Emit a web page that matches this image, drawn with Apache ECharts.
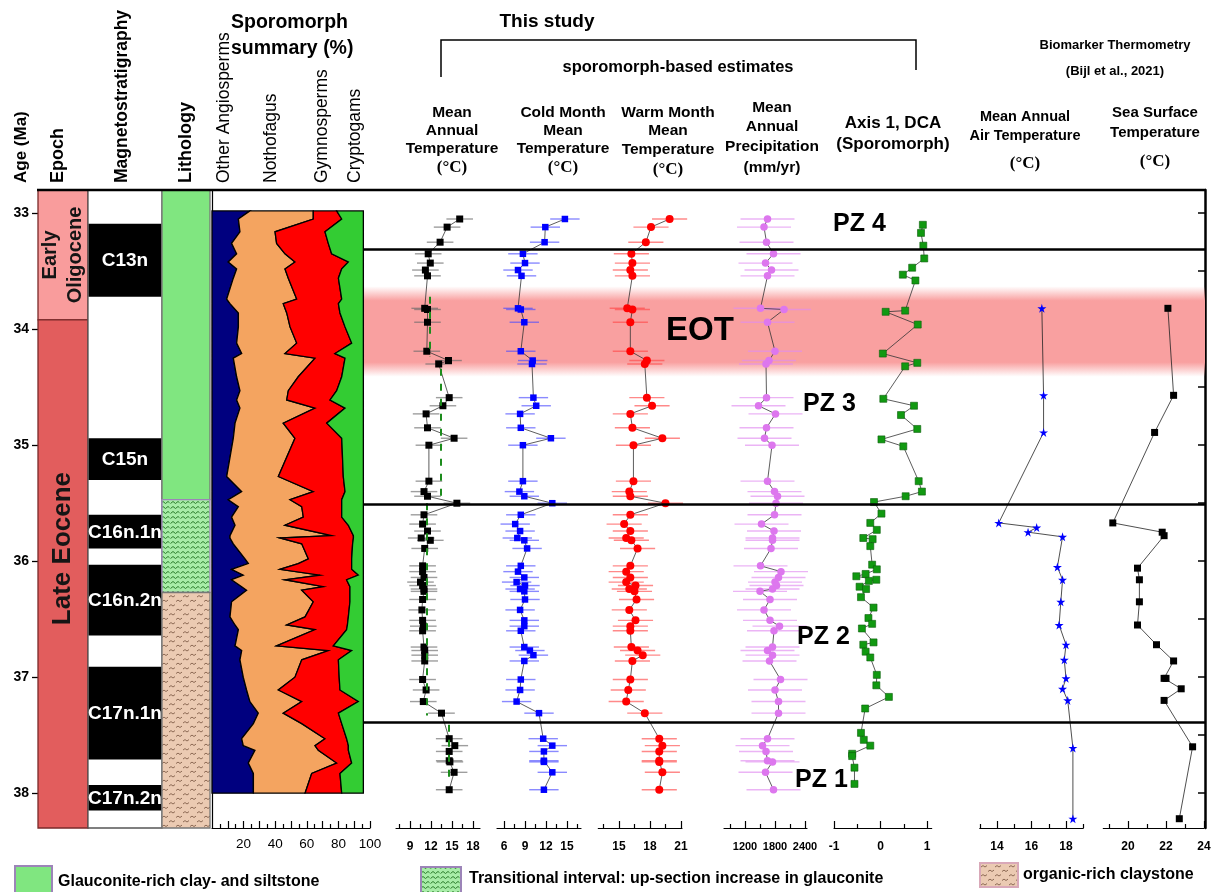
<!DOCTYPE html>
<html>
<head>
<meta charset="utf-8">
<title>EOT sporomorph climate record</title>
<script src="https://cdn.jsdelivr.net/npm/echarts@6/dist/echarts.min.js"></script>
<style>
  html, body { margin: 0; padding: 0; background: #fff; }
  #chart { width: 1222px; height: 892px; }
</style>
</head>
<body>
<div id="chart"></div>
<script>
// ---- age axis ----
const AGE_MIN = 32.8, AGE_MAX = 38.3;
const ageTicks = [33, 34, 35, 36, 37, 38];
const frameTicks = [33, 33.5, 34, 34.5, 35, 35.5, 36, 36.5, 37, 37.5, 38];

// ---- stratigraphic columns ----
const epochNames = ['Early\nOligocene', 'Late Eocene'];
const epochTop = [32.8, 33.92];
const epochBase = [33.92, 38.3];

const chronNames = ['C13n', 'C15n', 'C16n.1n', 'C16n.2n', 'C17n.1n', 'C17n.2n'];
const chronTop = [33.09, 34.94, 35.60, 36.03, 36.91, 37.93];
const chronBase = [33.72, 35.30, 35.89, 36.64, 37.71, 38.15];

const lithNames = ['Glauconite-rich clay- and siltstone', 'Transitional interval: up-section increase in glauconite', 'organic-rich claystone'];
const lithTop = [32.8, 35.47, 36.27];
const lithBase = [35.47, 36.27, 38.3];

// ---- sporomorph summary (%) ----
const sporGroups = ['Other Angiosperms', 'Nothofagus', 'Gymnosperms', 'Cryptogams'];
const sporAge = [32.98, 33.05, 33.16, 33.26, 33.35, 33.42, 33.48, 33.56, 33.74, 33.78, 33.86, 33.98, 34.12, 34.21, 34.25, 34.41, 34.53, 34.61, 34.68, 34.81, 34.94, 35.27, 35.40, 35.47, 35.53, 35.62, 35.69, 35.78, 35.80, 35.85, 35.98, 36.02, 36.07, 36.12, 36.16, 36.22, 36.25, 36.35, 36.48, 36.55, 36.59, 36.73, 36.77, 36.85, 37.00, 37.11, 37.21, 37.31, 37.40, 37.53, 37.59, 37.63, 37.74, 37.83, 38.00];
const otherAngio = [24.0, 16.7, 17.7, 12.4, 15.6, 10.3, 15.6, 13.5, 9.3, 11.4, 16.7, 16.7, 15.6, 18.8, 13.5, 15.6, 17.7, 15.6, 17.7, 14.6, 13.5, 9.3, 18.8, 10.3, 16.7, 12.4, 14.6, 11.4, 11.4, 13.5, 20.9, 23.0, 12.4, 19.8, 12.4, 18.8, 21.9, 12.4, 11.4, 14.6, 16.7, 14.6, 18.8, 17.7, 19.8, 21.9, 24.0, 29.3, 26.2, 18.8, 19.8, 27.2, 23.0, 26.2, 26.2];
const nothofagus = [40.1, 47.4, 22.2, 28.5, 30.6, 42.2, 30.6, 34.8, 44.3, 33.7, 30.6, 32.7, 38.0, 27.4, 51.7, 39.0, 30.6, 31.7, 47.5, 30.5, 39.0, 32.7, 45.3, 39.1, 40.1, 45.4, 31.6, 64.3, 31.6, 43.3, 40.1, 31.6, 30.6, 48.6, 33.8, 51.7, 34.9, 51.7, 47.5, 32.7, 48.5, 26.3, 54.8, 39.1, 32.7, 20.1, 32.8, 15.8, 30.6, 52.7, 45.4, 40.1, 55.9, 36.9, 32.7];
const gymnosperms = [14.8, 18.0, 31.6, 32.7, 29.5, 33.8, 35.9, 31.7, 28.5, 34.9, 33.7, 34.8, 34.8, 31.6, 19.0, 27.5, 30.6, 27.4, 19.0, 27.5, 29.6, 41.1, 20.1, 32.7, 25.3, 24.3, 40.1, 13.8, 46.5, 32.2, 27.4, 33.8, 45.4, 24.2, 39.0, 16.8, 30.5, 23.2, 27.4, 38.4, 20.0, 35.9, 14.8, 23.2, 28.0, 39.0, 35.8, 34.9, 25.3, 13.7, 21.1, 19.0, 9.5, 17.9, 23.2];
const cryptogams = [16.9, 13.7, 24.3, 22.2, 20.1, 9.5, 13.7, 15.8, 13.7, 15.8, 14.8, 11.6, 7.4, 18.0, 11.6, 13.7, 16.9, 21.1, 11.6, 23.2, 13.7, 12.7, 11.6, 13.7, 13.7, 13.7, 9.5, 6.3, 6.3, 6.8, 7.4, 7.4, 7.4, 3.2, 10.6, 8.5, 8.5, 8.5, 9.5, 10.1, 10.6, 19.0, 7.4, 15.8, 15.3, 14.8, 3.2, 15.8, 13.7, 10.6, 9.5, 9.5, 7.4, 14.8, 13.7];

// ---- sporomorph-based climate estimates (same samples) ----
const sampleAge = [33.05, 33.12, 33.25, 33.35, 33.43, 33.49, 33.54, 33.82, 33.83, 33.94, 34.19, 34.27, 34.30, 34.59, 34.66, 34.73, 34.85, 34.94, 35.00, 35.31, 35.40, 35.44, 35.50, 35.60, 35.68, 35.74, 35.80, 35.82, 35.89, 36.04, 36.09, 36.14, 36.18, 36.21, 36.24, 36.26, 36.33, 36.42, 36.51, 36.56, 36.60, 36.74, 36.77, 36.81, 36.86, 37.02, 37.11, 37.21, 37.31, 37.53, 37.59, 37.64, 37.72, 37.73, 37.82, 37.97];
const matValues = [16.1, 14.3, 13.3, 11.6, 11.9, 11.2, 11.5, 11.1, 11.5, 11.5, 11.4, 14.5, 13.1, 14.6, 13.7, 11.3, 11.5, 15.3, 11.7, 11.7, 11.0, 11.5, 15.7, 11.0, 10.8, 11.5, 10.6, 11.9, 11.1, 10.8, 10.8, 11.0, 10.5, 10.8, 11.0, 11.0, 10.8, 10.7, 10.8, 10.9, 10.8, 11.0, 11.1, 11.1, 11.1, 10.8, 11.3, 10.9, 13.5, 14.6, 15.4, 14.6, 14.6, 14.7, 15.3, 14.6];
const cmmtValues = [14.7, 11.9, 11.8, 8.7, 9.0, 8.0, 8.5, 8.0, 8.4, 8.9, 8.4, 10.1, 10.0, 10.2, 10.6, 8.3, 8.4, 12.7, 8.7, 8.7, 8.2, 8.9, 12.9, 8.4, 7.6, 8.3, 7.9, 8.9, 9.3, 8.4, 8.0, 8.9, 7.8, 9.0, 8.3, 8.9, 9.0, 8.3, 8.9, 8.9, 8.4, 8.9, 9.7, 10.2, 8.9, 8.4, 8.3, 7.8, 11.0, 11.6, 12.9, 11.7, 11.7, 11.7, 12.9, 11.7];
const wmmtValues = [19.9, 18.1, 17.6, 16.2, 16.3, 16.1, 16.3, 15.8, 16.3, 16.1, 16.1, 17.7, 17.5, 17.7, 18.2, 16.1, 16.3, 19.2, 16.4, 16.4, 16.0, 16.1, 19.5, 16.1, 15.5, 16.1, 15.7, 16.2, 16.8, 16.1, 15.7, 16.1, 15.7, 16.6, 16.0, 16.5, 16.7, 16.0, 16.6, 16.1, 16.1, 16.2, 16.8, 17.3, 16.3, 16.1, 15.9, 15.7, 17.5, 18.9, 19.2, 18.9, 18.9, 18.9, 19.2, 18.9];
const mapValues = [1650, 1580, 1630, 1770, 1610, 1730, 1650, 1510, 1980, 1650, 1800, 1680, 1620, 1630, 1470, 1810, 1630, 1590, 1740, 1650, 1790, 1850, 1820, 1790, 1530, 1780, 1750, 1750, 1720, 1510, 1920, 1870, 1800, 1830, 1750, 1500, 1700, 1580, 1700, 1890, 1780, 1750, 1650, 1750, 1690, 1910, 1800, 1870, 1870, 1650, 1550, 1620, 1650, 1750, 1610, 1770];
const matErr = 1.9, cmmtErr = 2.1, wmmtErr = 1.7, mapErr = 540;

// MAT zone averages (green dashed)
const matMeanValue = [11.8, 13.4, 11.4, 14.6];
const matMeanTop = [33.72, 34.34, 35.50, 37.41];
const matMeanBase = [34.24, 35.47, 37.33, 37.91];

// ---- DCA axis 1 ----
const dcaAge = [33.10, 33.17, 33.28, 33.39, 33.47, 33.53, 33.58, 33.84, 33.85, 33.96, 34.21, 34.29, 34.32, 34.60, 34.66, 34.74, 34.86, 34.95, 35.01, 35.31, 35.40, 35.44, 35.49, 35.59, 35.67, 35.73, 35.80, 35.81, 35.87, 36.03, 36.07, 36.11, 36.13, 36.16, 36.17, 36.22, 36.24, 36.31, 36.40, 36.49, 36.54, 36.58, 36.70, 36.72, 36.78, 36.83, 36.98, 37.07, 37.17, 37.27, 37.48, 37.54, 37.59, 37.66, 37.68, 37.78, 37.92];
const dcaScore = [0.91, 0.87, 0.92, 0.94, 0.68, 0.48, 0.75, 0.53, 0.11, 0.80, 0.05, 0.79, 0.53, 0.06, 0.72, 0.44, 0.79, 0.02, 0.49, 0.82, 0.89, 0.54, -0.14, 0.02, -0.22, -0.08, -0.37, -0.17, -0.22, -0.18, -0.08, -0.32, -0.52, -0.09, -0.25, -0.45, -0.31, -0.42, -0.15, -0.26, -0.18, -0.40, -0.15, -0.37, -0.32, -0.22, -0.08, -0.09, 0.18, -0.33, -0.42, -0.36, -0.22, -0.61, -0.61, -0.56, -0.56];

// ---- biomarker thermometry (Bijl et al., 2021) ----
const maatAge = [33.82, 34.57, 34.89, 35.67, 35.71, 35.75, 35.79, 36.05, 36.16, 36.35, 36.55, 36.72, 36.85, 37.01, 37.10, 37.20, 37.61, 38.22];
const maatValues = [16.6, 16.7, 16.7, 14.1, 16.3, 15.8, 17.8, 17.5, 17.8, 17.7, 17.6, 18.0, 17.9, 18.0, 17.8, 18.1, 18.4, 18.4];
const sstAge = [33.82, 34.57, 34.89, 35.67, 35.75, 35.78, 36.06, 36.16, 36.35, 36.55, 36.72, 36.86, 37.01, 37.01, 37.10, 37.20, 37.60, 38.22];
const sstValues = [22.1, 22.4, 21.4, 19.2, 21.8, 21.9, 20.5, 20.6, 20.6, 20.5, 21.5, 22.4, 21.9, 22.0, 22.8, 21.9, 23.4, 22.7];

// ---- zones ----
const zoneNames = ['PZ 4', 'PZ 3', 'PZ 2', 'PZ 1'];
const zoneBoundaries = [33.31, 35.51, 37.39];
const eotTop = 33.63, eotBase = 34.41;

// ---- panel axes ticks ----
const sporMajor = [10, 20, 30, 40, 50, 60, 70, 80, 90, 100], sporMinor = [5, 15, 25, 35, 45, 55, 65, 75, 85, 95], sporLabels = [20, 40, 60, 80, 100];
const matMajor = [9, 12, 15, 18], matMinor = [7.5, 10.5, 13.5, 16.5];
const cmmtMajor = [6, 9, 12, 15], cmmtMinor = [7.5, 10.5, 13.5, 16.5];
const wmmtMajor = [15, 18, 21], wmmtMinor = [13.5, 16.5, 19.5];
const mapMajor = [1200, 1800, 2400], mapMinor = [900, 1500, 2100];
const dcaMajor = [-1, 0, 1], dcaMinor = [-0.5, 0.5];
const maatMajor = [14, 16, 18], maatMinor = [13, 15, 17, 19];
const sstMajor = [20, 22, 24], sstMinor = [19, 21, 23];

const FONT = '"Liberation Sans", Arial, Helvetica, sans-serif';
const SERIF = '"Liberation Serif", "Times New Roman", serif';

function makeTile(w, h, bg, ink, draw) {
  const c = document.createElement('canvas');
  c.width = w; c.height = h;
  const g = c.getContext('2d');
  g.fillStyle = bg; g.fillRect(0, 0, w, h);
  g.strokeStyle = ink; g.lineWidth = 1;
  g.beginPath(); draw(g); g.stroke();
  return { image: c, repeat: 'repeat' };
}
const transTile = makeTile(10, 5, '#a8eda8', '#2b7d2b', function (g) {
  g.moveTo(0.5, 3.5); g.lineTo(3, 1.5); g.lineTo(5.5, 3.5); g.lineTo(8, 1.5); g.lineTo(9.5, 2.7);
});
const organicTile = makeTile(14, 9, '#ebcab2', '#8d6a55', function (g) {
  g.moveTo(1, 3); g.lineTo(3, 1.6); g.lineTo(5, 3); g.lineTo(7, 1.6);
  g.moveTo(8, 7.5); g.lineTo(10, 6.1); g.lineTo(12, 7.5); g.lineTo(14, 6.1);
});
const lithFill = ['#80e680', transTile, organicTile];
const epochColors = ['#f99c9c', '#e25d5d'];
const sporColors = ['#00007f', '#f4a460', '#ff0000', '#33cc33'];
const EOT_PINK = 'rgba(249,160,160,1)', EOT_CLEAR = 'rgba(249,160,160,0)';

const chart = echarts.init(document.getElementById('chart'));

const gridBoxes = [
  [38, 50], [88, 74], [162, 48], [212, 158],
  [396, 84], [497, 84], [598.3, 83.7], [724, 83],
  [834, 97.7], [979.75, 103.5], [1103.3, 100.7], [363, 842]
];
const grid = gridBoxes.map(function (b) { return { left: b[0], width: b[1], top: 190, height: 638 }; });

function hiddenX(gi) { return { gridIndex: gi, type: 'value', min: 0, max: 1, show: false }; }
function panelX(gi, min, max, major, minor, labels, font) {
  return [
    { gridIndex: gi, type: 'value', min: min, max: max, position: 'bottom',
      axisLine: { show: true, onZero: false, lineStyle: { color: '#000', width: 1.2 } },
      axisTick: { show: true, inside: true, length: 7, customValues: major, lineStyle: { color: '#000', width: 1.2 } },
      axisLabel: { show: true, customValues: labels, margin: font.margin, color: '#000', fontSize: font.size, fontWeight: font.weight, fontFamily: FONT,
        formatter: function (v) { return String(v); } },
      splitLine: { show: false } },
    { gridIndex: gi, type: 'value', min: min, max: max, position: 'bottom',
      axisLine: { show: false, onZero: false },
      axisTick: { show: true, inside: true, length: 4, customValues: minor, lineStyle: { color: '#000', width: 1.2 } },
      axisLabel: { show: false }, splitLine: { show: false } }
  ];
}
const boldFont = { size: 12, weight: 'bold', margin: 13 };
const xAxis = [hiddenX(0), hiddenX(1), hiddenX(2)]
  .concat(panelX(3, 0, 100, sporMajor, sporMinor, sporLabels, { size: 13.5, weight: 'normal', margin: 9 }))
  .concat(panelX(4, 7, 19, matMajor, matMinor, matMajor, boldFont))
  .concat(panelX(5, 5, 17, cmmtMajor, cmmtMinor, cmmtMajor, boldFont))
  .concat(panelX(6, 13, 21.1, wmmtMajor, wmmtMinor, wmmtMajor, boldFont))
  .concat(panelX(7, 780, 2440, mapMajor, mapMinor, mapMajor, { size: 11, weight: 'bold', margin: 13 }))
  .concat(panelX(8, -1, 1.1, dcaMajor, dcaMinor, dcaMajor, boldFont))
  .concat(panelX(9, 13, 19, maatMajor, maatMinor, maatMajor, boldFont))
  .concat(panelX(10, 18.7, 24, sstMajor, sstMinor, sstMajor, boldFont))
  .concat([hiddenX(11)]);

function ageY(gi, extra) {
  return Object.assign({ gridIndex: gi, type: 'value', inverse: true, min: AGE_MIN, max: AGE_MAX, show: false }, extra || {});
}
const yAxis = [];
for (let g = 0; g < 12; g++) yAxis.push(ageY(g));
yAxis[0] = ageY(0, {
  show: true, position: 'left',
  axisLine: { show: false },
  axisTick: { show: true, length: 6, customValues: ageTicks, lineStyle: { color: '#000', width: 1.3 } },
  axisLabel: { show: true, customValues: ageTicks, margin: 9, color: '#000', fontSize: 14, fontWeight: 'bold', fontFamily: FONT },
  splitLine: { show: false }
});
yAxis[3] = ageY(3, {
  show: true, position: 'left',
  axisLine: { show: true, onZero: false, lineStyle: { color: '#000', width: 1.2 } },
  axisTick: { show: false }, axisLabel: { show: false }, splitLine: { show: false }
});
yAxis[11] = ageY(11, {
  show: true, position: 'right',
  axisLine: { show: true, onZero: false, lineStyle: { color: '#000', width: 2.5 } },
  axisTick: { show: true, inside: true, length: 7, customValues: frameTicks, lineStyle: { color: '#000', width: 1.5 } },
  axisLabel: { show: false }, splitLine: { show: false }
});

// interval columns (epoch, chrons, lithology)
function intervalSeries(gi, tops, bases, draw) {
  return {
    type: 'custom', coordinateSystem: 'cartesian2d', xAxisIndex: gi, yAxisIndex: gi, silent: true,
    data: tops.map(function (t, i) { return [0, t, 1, bases[i]]; }),
    encode: { x: [0, 2], y: [1, 3] },
    renderItem: function (params, api) {
      const i = params.dataIndex;
      const a = api.coord([0, tops[i]]), b = api.coord([1, bases[i]]);
      return draw(i, a[0], a[1], b[0] - a[0], b[1] - a[1]);
    }
  };
}

const epochSeries = intervalSeries(0, epochTop, epochBase, function (i, x, y, w, h) {
  // the Late Eocene label sits a little above the middle of its box
  const ly = i === 0 ? y + h / 2 : y + h * 0.45;
  return { type: 'group', children: [
    { type: 'rect', shape: { x: x, y: y, width: w, height: h }, style: { fill: epochColors[i], stroke: '#7a2a2a', lineWidth: 1.3 } },
    { type: 'text', x: x + w / 2, y: ly, rotation: Math.PI / 2,
      style: { text: epochNames[i], fill: '#151515', font: (i === 0 ? 'bold 20px ' : 'bold 26px ') + FONT, align: 'center', verticalAlign: 'middle', lineHeight: 25 } }
  ] };
});
const magBackSeries = intervalSeries(1, [AGE_MIN], [AGE_MAX], function (i, x, y, w, h) {
  return { type: 'rect', shape: { x: x, y: y, width: w, height: h }, style: { fill: '#fff', stroke: '#555', lineWidth: 1.3 } };
});
const chronSeries = intervalSeries(1, chronTop, chronBase, function (i, x, y, w, h) {
  return { type: 'group', children: [
    { type: 'rect', shape: { x: x + 0.6, y: y, width: w - 1.2, height: h }, style: { fill: '#000' } },
    { type: 'text', x: x + w / 2, y: y + h / 2 + 1,
      style: { text: chronNames[i], fill: '#fff', font: 'bold 19px ' + FONT, align: 'center', verticalAlign: 'middle' } }
  ] };
});
const lithSeries = intervalSeries(2, lithTop, lithBase, function (i, x, y, w, h) {
  return { type: 'rect', shape: { x: x, y: y, width: w, height: h }, style: { fill: lithFill[i], stroke: i === 1 ? '#9c84b8' : '#777', lineWidth: 1.3 } };
});

// stacked sporomorph areas
const sporLayers = [otherAngio, nothofagus, gymnosperms, cryptogams];
const sporEdges = [];
let run = sporAge.map(function () { return 0; });
sporLayers.forEach(function (layer) {
  const left = run;
  run = run.map(function (v, i) { return v + layer[i]; });
  sporEdges.push([left, run]);
});
const sporSeries = {
  type: 'custom', coordinateSystem: 'cartesian2d', xAxisIndex: 3, yAxisIndex: 3, silent: true,
  data: sporGroups.map(function () { return [50, 35]; }),
  encode: { x: 0, y: 1 },
  renderItem: function (params, api) {
    const k = params.dataIndex;
    const pts = [];
    for (let i = 0; i < sporAge.length; i++) pts.push(api.coord([sporEdges[k][1][i], sporAge[i]]));
    for (let i = sporAge.length - 1; i >= 0; i--) pts.push(api.coord([sporEdges[k][0][i], sporAge[i]]));
    return { type: 'polygon', shape: { points: pts }, style: { fill: sporColors[k], stroke: '#000', lineWidth: 1.3, lineJoin: 'miter' } };
  }
};

// error bars + record
function errSeries(xi, yi, vals, ages, err, color) {
  return {
    type: 'custom', coordinateSystem: 'cartesian2d', xAxisIndex: xi, yAxisIndex: yi, silent: true, z: 2,
    data: vals.map(function (v, i) { return [v - err, v + err, ages[i]]; }),
    encode: { x: [0, 1], y: 2 },
    renderItem: function (params, api) {
      const a = api.coord([api.value(0), api.value(2)]);
      const b = api.coord([api.value(1), api.value(2)]);
      return { type: 'line', shape: { x1: a[0], y1: a[1], x2: b[0], y2: b[1] }, style: { stroke: color, lineWidth: 1.4, opacity: 0.65 } };
    }
  };
}
function recordSeries(name, xi, yi, vals, ages, symbol, size, color, extra) {
  return Object.assign({
    name: name, type: 'line', xAxisIndex: xi, yAxisIndex: yi, z: 3, silent: true,
    data: vals.map(function (v, i) { return [v, ages[i]]; }),
    symbol: symbol, symbolSize: size, showSymbol: true,
    itemStyle: { color: color },
    lineStyle: { color: '#333', width: 0.8 }
  }, extra || {});
}
const STAR = 'path://M50,0 L61,35 L98,35 L68,57 L79,91 L50,70 L21,91 L32,57 L2,35 L39,35 Z';

const series = [
  epochSeries, magBackSeries, chronSeries, lithSeries, sporSeries,
  errSeries(5, 4, matValues, sampleAge, matErr, '#6a6a6a'),
  recordSeries('MAT', 5, 4, matValues, sampleAge, 'rect', 7, '#000', {
    markLine: {
      silent: true, symbol: 'none', label: { show: false },
      lineStyle: { color: '#1c8c1c', width: 2, type: [7, 8] },
      data: matMeanValue.map(function (v, i) { return [{ coord: [v, matMeanTop[i]] }, { coord: [v, matMeanBase[i]] }]; })
    }
  }),
  errSeries(7, 5, cmmtValues, sampleAge, cmmtErr, '#4b4bff'),
  recordSeries('CMMT', 7, 5, cmmtValues, sampleAge, 'rect', 6.5, '#0000ff'),
  errSeries(9, 6, wmmtValues, sampleAge, wmmtErr, '#ff4a4a'),
  recordSeries('WMMT', 9, 6, wmmtValues, sampleAge, 'circle', 8, '#ff0000'),
  errSeries(11, 7, mapValues, sampleAge, mapErr, '#e08cf0'),
  recordSeries('MAP', 11, 7, mapValues, sampleAge, 'circle', 7.5, '#dd77ee'),
  recordSeries('DCA', 13, 8, dcaScore, dcaAge, 'rect', 7, '#119911', { itemStyle: { color: '#119911', borderColor: '#0b5e0b', borderWidth: 0.6 } }),
  recordSeries('MAAT', 15, 9, maatValues, maatAge, STAR, 9, '#0000ff', { lineStyle: { color: '#222', width: 0.8 } }),
  recordSeries('SST', 17, 10, sstValues, sstAge, 'rect', 7, '#000', { lineStyle: { color: '#222', width: 0.8 } }),
  {
    type: 'line', xAxisIndex: 19, yAxisIndex: 11, data: [], silent: true, z: 1,
    markArea: {
      silent: true,
      itemStyle: {
        color: {
          type: 'linear', x: 0, y: 0, x2: 0, y2: 1,
          colorStops: [
            { offset: 0, color: EOT_CLEAR }, { offset: 0.16, color: EOT_PINK },
            { offset: 0.84, color: EOT_PINK }, { offset: 1, color: EOT_CLEAR }
          ]
        }
      },
      data: [[{ yAxis: eotTop }, { yAxis: eotBase }]]
    },
    markLine: {
      silent: true, symbol: 'none', label: { show: false },
      lineStyle: { color: '#000', width: 2.5, type: 'solid' },
      data: zoneBoundaries.map(function (a) { return { yAxis: a }; })
    }
  }
];

// ---- text and frame graphics ----
function txt(text, x, y, font, align, extra) {
  return Object.assign({ type: 'text', x: x, y: y, z: 100, silent: true,
    style: { text: text, font: font, fill: '#000', align: align || 'center', verticalAlign: 'middle' } }, extra || {});
}
function vtxt(text, x, font) {
  return txt(text, x, 183, font, 'left', { rotation: Math.PI / 2 });
}
const H = 'bold 15.5px ' + FONT;
const DEG = 'bold 17px ' + SERIF;
const graphic = [
  { type: 'line', z: 100, silent: true, shape: { x1: 37, y1: 190, x2: 1206, y2: 190 }, style: { stroke: '#000', lineWidth: 2.5 } },
  { type: 'polyline', z: 100, silent: true, shape: { points: [[441, 77], [441, 40], [916, 40], [916, 70]] }, style: { stroke: '#000', lineWidth: 1.5, fill: null } },
  vtxt('Age (Ma)', 21, 'bold 17px ' + FONT),
  vtxt('Epoch', 58, 'bold 18px ' + FONT),
  vtxt('Magnetostratigraphy', 122, 'bold 17.5px ' + FONT),
  vtxt('Lithology', 186, 'bold 18px ' + FONT),
  vtxt(sporGroups[0], 224, '17.5px ' + FONT),
  vtxt(sporGroups[1], 271, '17.5px ' + FONT),
  vtxt(sporGroups[2], 322, '17.5px ' + FONT),
  vtxt(sporGroups[3], 355, '17.5px ' + FONT),
  txt('Sporomorph', 231, 23, 'bold 19.5px ' + FONT, 'left'),
  txt('summary (%)', 231, 49, 'bold 19.5px ' + FONT, 'left'),
  txt('This study', 547, 22, 'bold 19px ' + FONT),
  txt('sporomorph-based estimates', 678, 67, 'bold 16.5px ' + FONT),
  txt('Biomarker Thermometry', 1115, 45, 'bold 13px ' + FONT),
  txt('(Bijl et al., 2021)', 1115, 71, 'bold 13px ' + FONT),
  txt('Mean', 452, 113, H), txt('Annual', 452, 131, H), txt('Temperature', 452, 149, H), txt('(°C)', 452, 168, DEG),
  txt('Cold Month', 563, 113, H), txt('Mean', 563, 131, H), txt('Temperature', 563, 149, H), txt('(°C)', 563, 168, DEG),
  txt('Warm Month', 668, 113, H), txt('Mean', 668, 131, H), txt('Temperature', 668, 150, H), txt('(°C)', 668, 170, DEG),
  txt('Mean', 772, 108, H), txt('Annual', 772, 127, H), txt('Precipitation', 772, 147, H), txt('(mm/yr)', 772, 168, H),
  txt('Axis 1, DCA', 893, 123, 'bold 17px ' + FONT), txt('(Sporomorph)', 893, 144, 'bold 17px ' + FONT),
  txt('Mean Annual', 1025, 117, 'bold 14.5px ' + FONT), txt('Air Temperature', 1025, 136, 'bold 14.5px ' + FONT), txt('(°C)', 1025, 164, DEG),
  txt('Sea Surface', 1155, 113, 'bold 15px ' + FONT), txt('Temperature', 1155, 133, 'bold 15px ' + FONT), txt('(°C)', 1155, 162, DEG),
  txt(zoneNames[0], 833, 224, 'bold 25px ' + FONT, 'left'),
  txt(zoneNames[1], 803, 404, 'bold 25px ' + FONT, 'left'),
  txt(zoneNames[2], 797, 637, 'bold 25px ' + FONT, 'left'),
  txt(zoneNames[3], 795, 780, 'bold 25px ' + FONT, 'left'),
  txt('EOT', 666, 331, 'bold 33px ' + FONT, 'left'),
  // legend
  { type: 'rect', z: 100, silent: true, shape: { x: 15, y: 866, width: 37, height: 28 }, style: { fill: lithFill[0], stroke: '#9c84b8', lineWidth: 2 } },
  txt(lithNames[0], 58, 882, 'bold 16px ' + FONT, 'left'),
  { type: 'rect', z: 100, silent: true, shape: { x: 421, y: 867, width: 40, height: 27 }, style: { fill: lithFill[1], stroke: '#9c84b8', lineWidth: 2 } },
  txt(lithNames[1], 469, 879, 'bold 16px ' + FONT, 'left'),
  { type: 'rect', z: 100, silent: true, shape: { x: 980, y: 863, width: 38, height: 24 }, style: { fill: lithFill[2], stroke: '#d9a8b8', lineWidth: 2 } },
  txt(lithNames[2], 1023, 875, 'bold 16px ' + FONT, 'left')
];

chart.setOption({
  animation: false,
  backgroundColor: '#fff',
  grid: grid,
  xAxis: xAxis,
  yAxis: yAxis,
  series: series,
  graphic: graphic
});
</script>
</body>
</html>
